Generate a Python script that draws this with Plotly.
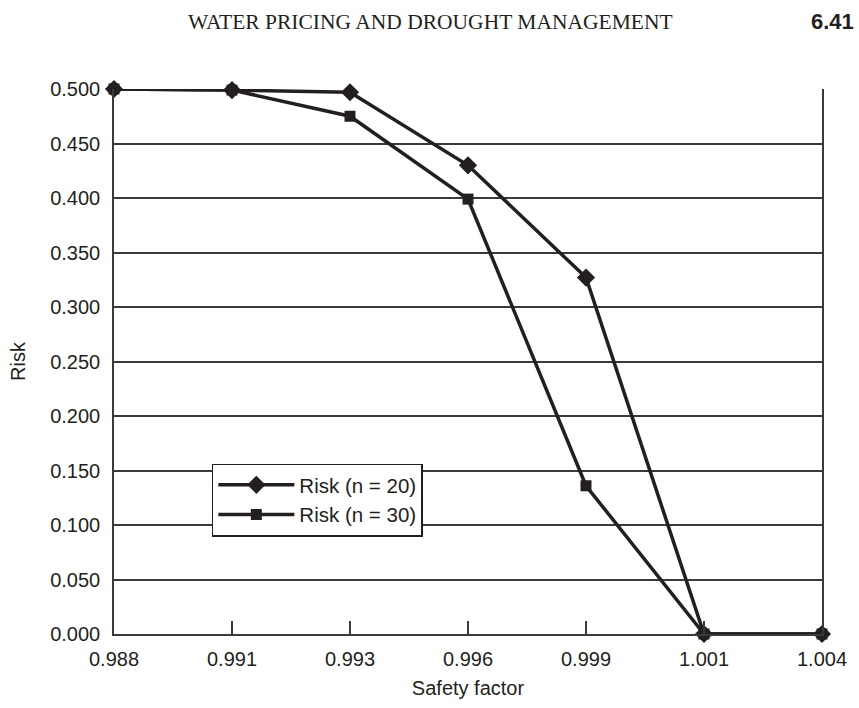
import plotly.graph_objects as go

safety_factor = ["0.988", "0.991", "0.993", "0.996", "0.999", "1.001", "1.004"]
risk_n20 = [0.500, 0.499, 0.497, 0.430, 0.327, 0.000, 0.000]
risk_n30 = [0.500, 0.499, 0.475, 0.399, 0.136, 0.000, 0.000]
y_ticks = [0.0, 0.05, 0.10, 0.15, 0.20, 0.25, 0.30, 0.35, 0.40, 0.45, 0.50]

INK = "#231f20"
GRID = "#3a3a3a"
SANS = "Liberation Sans, Arial, sans-serif"

fig = go.Figure()
fig.add_trace(go.Scatter(
    x=safety_factor, y=risk_n20, name="Risk (n = 20)", mode="lines+markers",
    line=dict(color=INK, width=3.5),
    marker=dict(symbol="diamond", size=14, color=INK),
    cliponaxis=False,
))
fig.add_trace(go.Scatter(
    x=safety_factor, y=risk_n30, name="Risk (n = 30)", mode="lines+markers",
    line=dict(color=INK, width=3.5),
    marker=dict(symbol="square", size=11, color=INK),
    cliponaxis=False,
))

W, H = 859, 708
# plot area in page pixels
PL, PR, PT, PB = 114, 834, 88.5, 641.5
L, R, T, B = PL, W - PR, PT, H - PB
pw, ph = W - L - R, H - T - B

def px_x(x):
    return (x - L) / pw

def px_y(y):
    return (H - B - y) / ph

fig.update_layout(
    width=W, height=H,
    margin=dict(l=L, r=R, t=T, b=B, pad=0),
    paper_bgcolor="white", plot_bgcolor="white",
    font=dict(family=SANS, size=20, color=INK),
    showlegend=True,
    legend=dict(
        x=px_x(213.5), y=px_y(468.5), xanchor="left", yanchor="top",
        bordercolor=INK, borderwidth=1.5, bgcolor="white",
        font=dict(family=SANS, size=20.5, color=INK),
        itemwidth=76, tracegroupgap=0,
    ),
    xaxis=dict(
        type="category", range=[0, 6],
        showgrid=False, showline=True, linecolor=GRID, linewidth=1.5,
        ticks="inside", ticklen=13, tickwidth=1.5, tickcolor=GRID,
        ticklabelstandoff=6,
        tickfont=dict(family=SANS, size=20, color=INK),
        title=dict(text="Safety factor", font=dict(family=SANS, size=20, color=INK), standoff=12),
        zeroline=False,
    ),
    yaxis=dict(
        range=[0, 0.5], tickvals=y_ticks, tickformat=".3f",
        showgrid=True, gridcolor=GRID, gridwidth=1.5,
        showline=True, linecolor=GRID, linewidth=1.5, mirror=True,
        ticks="", ticklabelstandoff=8,
        tickfont=dict(family=SANS, size=20, color=INK),
        title=dict(text="Risk", font=dict(family=SANS, size=20, color=INK), standoff=19),
        zeroline=False,
    ),
    annotations=[
        dict(text="WATER PRICING AND DROUGHT MANAGEMENT", xref="paper", yref="paper",
             x=px_x(436), y=px_y(20.5), xanchor="center", yanchor="middle", showarrow=False,
             font=dict(family="Liberation Serif, Times New Roman, serif", size=21.5, color=INK)),
        dict(text="<b>6.41</b>", xref="paper", yref="paper",
             x=px_x(821), y=px_y(20), xanchor="left", yanchor="middle", showarrow=False,
             font=dict(family=SANS, size=22, color=INK)),
    ],
)

fig.write_html("out.html", config={"displayModeBar": False},
               post_script="document.body.style.margin='0px';")
